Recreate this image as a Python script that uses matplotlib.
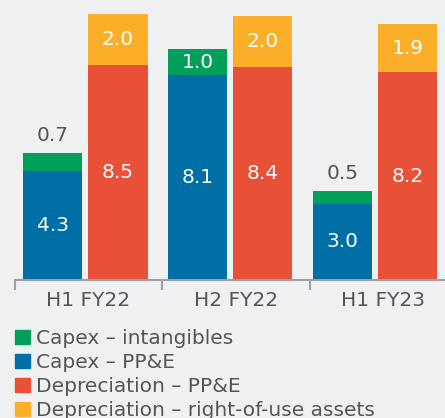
import matplotlib
matplotlib.use("Agg")
import matplotlib.pyplot as plt
from matplotlib.patches import Rectangle
import numpy as np

periods = ["H1 FY22", "H2 FY22", "H1 FY23"]
capex_ppe = [4.3, 8.1, 3.0]
capex_intangibles = [0.7, 1.0, 0.5]
dep_ppe = [8.5, 8.4, 8.2]
dep_rou = [2.0, 2.0, 1.9]
series_names = ["Capex \u2013 intangibles", "Capex \u2013 PP&E",
                "Depreciation \u2013 PP&E", "Depreciation \u2013 right-of-use assets"]

C_GREEN = "#00A05A"
C_BLUE = "#006FA5"
C_RED = "#E85037"
C_YELLOW = "#FBAF29"
BG = "#EFF0F2"
GREY_TXT = "#555555"
AXIS_GREY = "#A0A0A0"

plt.rcParams['font.family'] = ['DejaVu Sans']

W, H = 445, 418
fig = plt.figure(figsize=(W / 100, H / 100), dpi=100, facecolor=BG)
ax = fig.add_axes([15 / W, (H - 280) / H, 430 / W, 280 / H])
ax.set_facecolor(BG)

x = np.arange(len(periods))
bw = 0.41
off = 0.225
FS = 14.5

xc = x - off
xd = x + off
b1 = ax.bar(xc, capex_ppe, bw, color=C_BLUE, zorder=2)
b2 = ax.bar(xc, capex_intangibles, bw, bottom=capex_ppe, color=C_GREEN, zorder=2)
b3 = ax.bar(xd, dep_ppe, bw, color=C_RED, zorder=2)
b4 = ax.bar(xd, dep_rou, bw, bottom=dep_ppe, color=C_YELLOW, zorder=2)

def lab_in(xs, vals, bottoms):
    for xi, v, b in zip(xs, vals, bottoms):
        ax.text(xi, b + v / 2, f"{v:.1f}", ha='center', va='center',
                color='white', fontsize=FS)

lab_in(xc, capex_ppe, [0] * 3)
lab_in(xd, dep_ppe, [0] * 3)
lab_in(xd, dep_rou, dep_ppe)
for xi, v, b in zip(xc, capex_intangibles, capex_ppe):
    if v >= 0.8:
        ax.text(xi, b + v / 2, f"{v:.1f}", ha='center', va='center',
                color='white', fontsize=FS)
    else:
        ax.annotate(f"{v:.1f}", (xi, b + v), xytext=(0, 6), textcoords='offset points',
                    ha='center', va='bottom', color=GREY_TXT, fontsize=FS)

ax.set_xlim(-0.486, 2.483)
ax.set_ylim(0, 11.05)
for s in ['top', 'right', 'left']:
    ax.spines[s].set_visible(False)
ax.spines['bottom'].set_color(AXIS_GREY)
ax.spines['bottom'].set_linewidth(1.5)
ax.set_yticks([])

bounds = [-0.486, 0.528, 1.548, 2.565]
ax.set_xticks(bounds[:3], minor=True)
ax.tick_params(axis='x', which='minor', length=7, width=1.5, color=AXIS_GREY)
mids = [(bounds[i] + bounds[i + 1]) / 2 for i in range(3)]
ax.set_xticks(mids)
ax.set_xticklabels(periods, fontsize=FS, color=GREY_TXT)
ax.tick_params(axis='x', which='major', length=0, pad=8)

colors = [C_GREEN, C_BLUE, C_RED, C_YELLOW]
baselines = [344, 368, 392, 416]
for name, col, yb in zip(series_names, colors, baselines):
    fig.add_artist(Rectangle((15 / W, (H - yb) / H), 15 / W, 14 / H,
                             transform=fig.transFigure, color=col))
    fig.text(36 / W, (H - yb) / H, name, ha='left', va='baseline',
             fontsize=FS, color=GREY_TXT)

fig.savefig("out.png", dpi=100, facecolor=BG)
